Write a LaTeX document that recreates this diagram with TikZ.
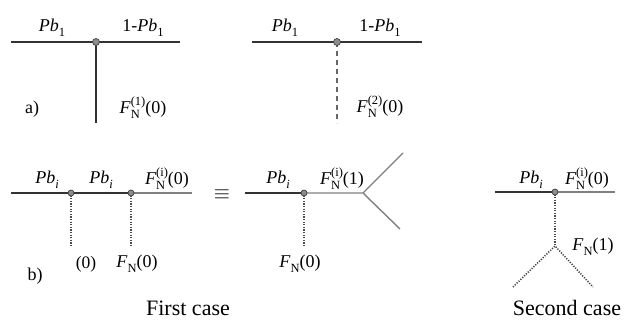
\documentclass[tikz,border=0pt]{standalone}
\usepackage{fontspec}
\setmainfont{Liberation Serif}
\usepackage{tikz}
\usetikzlibrary{positioning,calc}

\newcommand{\scr}[1]{{\fontsize{12.5}{13}\selectfont #1}}
\newcommand{\lo}[1]{\raisebox{-0.3em}{\scr{#1}}}
\newcommand{\hi}[1]{\raisebox{0.42em}{\scr{#1}}}
\newcommand{\Pbsub}[1]{\textit{Pb}\lo{#1}}
\newcommand{\FNsup}[2]{\textit{F}\rlap{\lo{N}}\hi{#1}#2}
\newcommand{\FNplain}[1]{\textit{F}\lo{N}#1}

\begin{document}
\begin{tikzpicture}[x=1pt,y=-1pt,
    lbl/.style={font=\fontsize{18}{20}\selectfont, inner sep=0pt},
    small/.style={font=\fontsize{17.5}{19}\selectfont, inner sep=0pt},
    caption/.style={font=\fontsize{22}{24}\selectfont, inner sep=0pt, anchor=base},
    dark/.style={line width=1.5pt, draw=black!80},
    grey/.style={line width=1.4pt, draw=black!50},
    dots/.style={line width=1.6pt, draw=black!70, dash pattern=on 1.2pt off 1.4pt},
    dashes/.style={line width=1.3pt, draw=black!60, dash pattern=on 5pt off 4pt},
    junc/.style={circle, fill=black!45, draw=black!75, line width=0.7pt, inner sep=0pt, minimum size=#1},
    junc/.default=7pt]
    \useasboundingbox (0,0) rectangle (629,320);

    % a) first vertex
    \coordinate (al) at (11,42);
    \coordinate (ad) at (96,42);
    \coordinate (ar) at (180,42);
    \coordinate (ab) at (96,123);
    \draw[dark] (al) -- (ar);
    \draw[dark] (ad) -- (ab);
    \node[junc] (adot) at (ad) {};
    \node[lbl] (apl) at (52,28) {\Pbsub{1}};
    \node[lbl] (apr) at (143,28) {1-\Pbsub{1}};
    \node[lbl] (alab) at (32,109) {a)};
    \node[lbl] (af) at (143,108) {\FNsup{(1)}{(0)}};

    % a) second vertex
    \coordinate (bl) at (252,42);
    \coordinate (bd) at (337,42);
    \coordinate (br) at (422,42);
    \coordinate (bb) at (337,123);
    \draw[dark] (bl) -- (br);
    \draw[dashes] (bd) -- (bb);
    \node[junc] (bdot) at (bd) {};
    \node[lbl] (bpl) at (285,28) {\Pbsub{1}};
    \node[lbl] (bpr) at (380,28) {1-\Pbsub{1}};
    \node[lbl] (bf) at (380,107) {\FNsup{(2)}{(0)}};

    % b) first case, left
    \coordinate (cl) at (11,193);
    \coordinate (c1) at (71,193);
    \coordinate (c2) at (131,193);
    \coordinate (cr) at (192,193);
    \coordinate (c1b) at (71,247);
    \coordinate (c2b) at (131,247);
    \draw[grey] (c2) -- (cr);
    \draw[dark] (cl) -- (c2);
    \draw[dots] (c1) -- (c1b);
    \draw[dots] (c2) -- (c2b);
    \node[junc=6pt] (cdot1) at (c1) {};
    \node[junc=6pt] (cdot2) at (c2) {};
    \node[lbl] (cp1) at (47,180) {\Pbsub{\textit{i}}};
    \node[lbl] (cp2) at (101,180) {\Pbsub{\textit{i}}};
    \node[lbl] (cf) at (167,179) {\FNsup{(i)}{(0)}};
    \node[small] (cz) at (86,264) {(0)};
    \node[lbl] (cfn) at (137,264) {\FNplain{(0)}};
    \node[lbl] (blab) at (35,276) {b)};
    \node[lbl, font=\fontsize{22}{24}\selectfont] (eqv) at (222,195) {$\equiv$};

    % b) first case, right
    \coordinate (dl) at (245,193);
    \coordinate (dd) at (304,193);
    \coordinate (dk) at (363,193);
    \coordinate (du) at (403,153);
    \coordinate (dw) at (400,229);
    \coordinate (db) at (304,247);
    \draw[grey] (dd) -- (dk) -- (du);
    \draw[grey] (dk) -- (dw);
    \draw[dark] (dl) -- (dd);
    \draw[dots] (dd) -- (db);
    \node[junc=6pt] (ddot) at (dd) {};
    \node[lbl] (dp) at (278,180) {\Pbsub{\textit{i}}};
    \node[lbl] (df) at (342,179) {\FNsup{(i)}{(1)}};
    \node[lbl] (dfn) at (300,264) {\FNplain{(0)}};
    \node[caption] (first) at (188,316) {First case};

    % b) second case
    \coordinate (el) at (495,192);
    \coordinate (ed) at (555,192);
    \coordinate (er) at (615,192);
    \coordinate (ek) at (555,246);
    \coordinate (ea) at (513,287);
    \coordinate (eb) at (593,287);
    \draw[grey] (ed) -- (er);
    \draw[dark] (el) -- (ed);
    \draw[dots] (ed) -- (ek);
    \draw[dots] (ea) -- (ek) -- (eb);
    \node[junc=6pt] (edot) at (ed) {};
    \node[lbl] (ep) at (531,180) {\Pbsub{\textit{i}}};
    \node[lbl] (ef) at (587,179) {\FNsup{(i)}{(0)}};
    \node[lbl] (efn) at (593,247) {\FNplain{(1)}};
    \node[caption] (second) at (567,316) {Second case};
\end{tikzpicture}
\end{document}
